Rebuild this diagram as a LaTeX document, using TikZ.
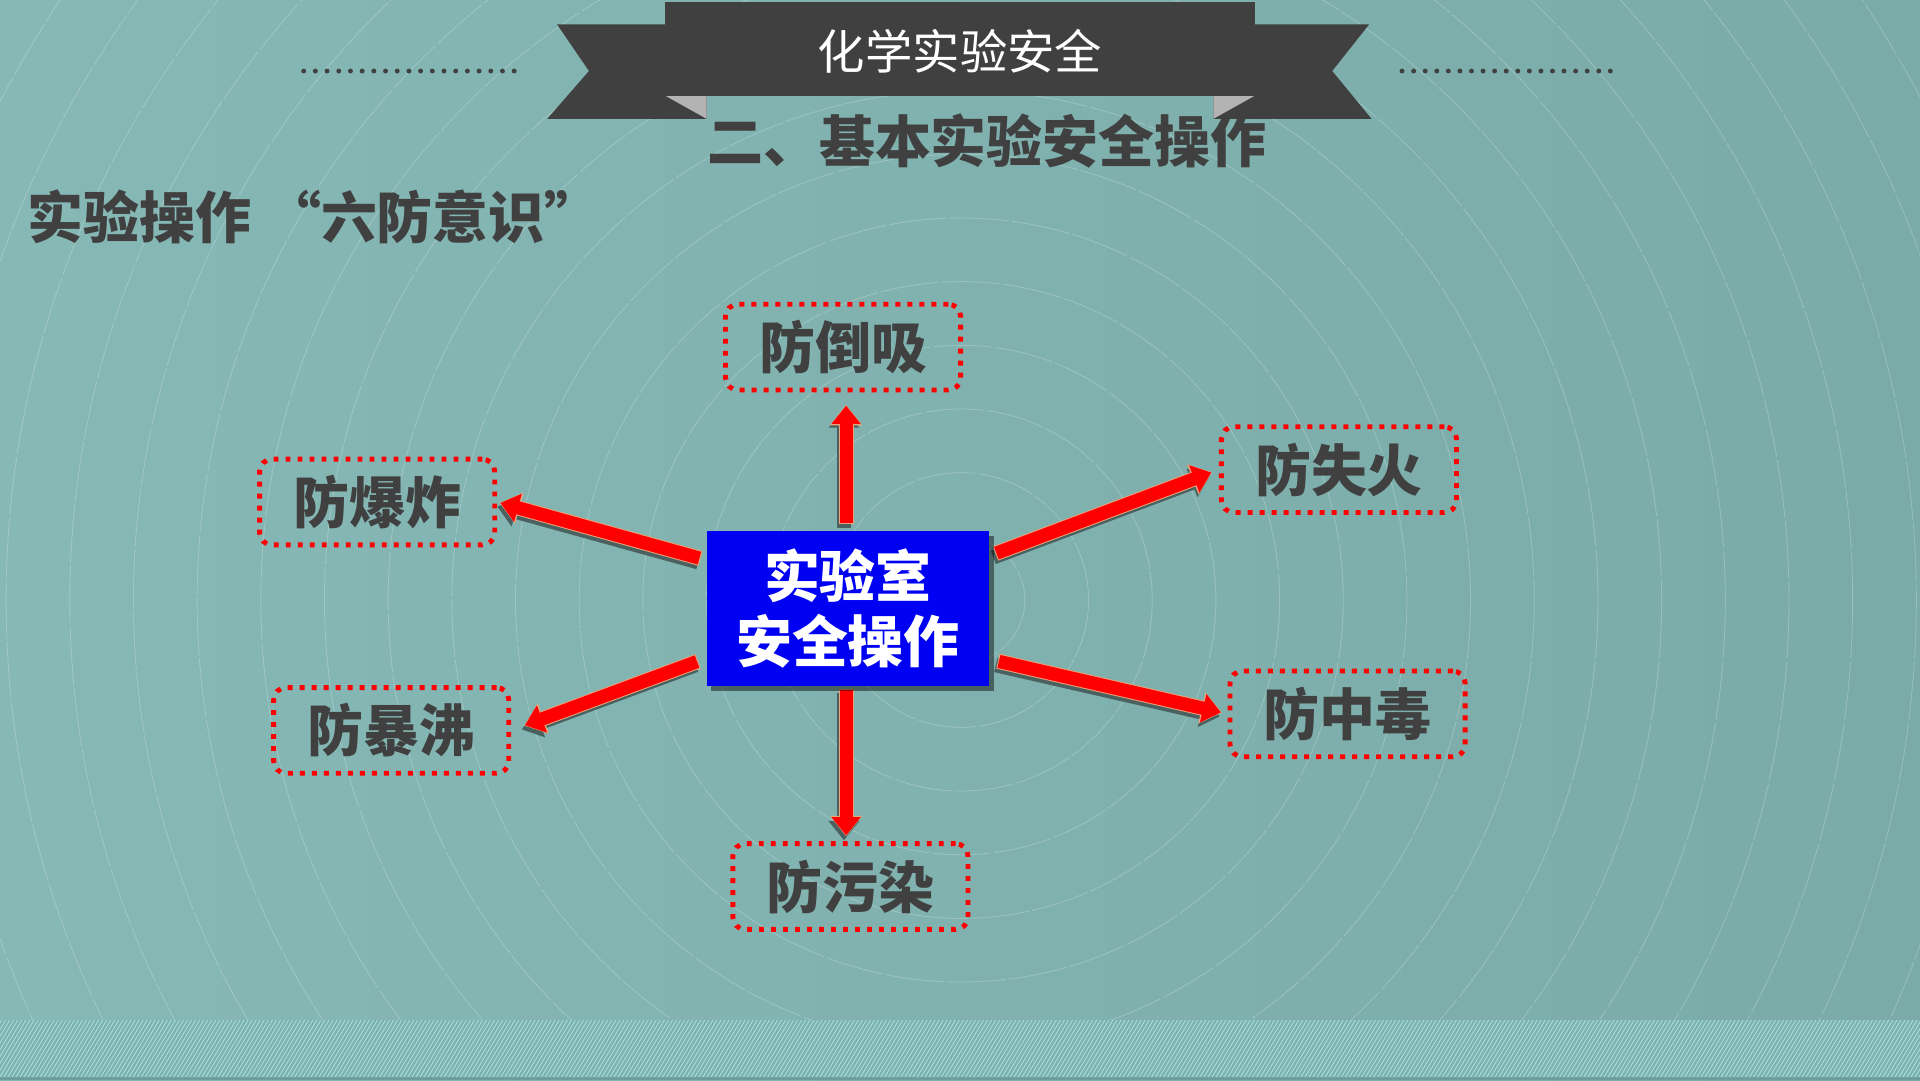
\documentclass[tikz,border=0pt]{standalone}
\usepackage{fontspec}
\newfontfamily\cjk{Noto Sans CJK SC}
\usetikzlibrary{arrows.meta,calc,shadows}
\definecolor{bgL}{HTML}{86B8B5}
\definecolor{bgR}{HTML}{7AABA8}
\definecolor{ink}{HTML}{404040}
\definecolor{fold}{HTML}{B3B3B3}
\definecolor{boxblue}{HTML}{0000F2}
\definecolor{arrowred}{HTML}{FF0000}
\definecolor{arrowedge}{HTML}{E9A27A}
\definecolor{arrowshade}{HTML}{4A6160}
\definecolor{hatch}{HTML}{A8DEDD}
\definecolor{band}{HTML}{7DB2B0}
\definecolor{strip}{HTML}{6E9F9C}
\begin{document}
\begin{tikzpicture}[x=0.25mm,y=-0.25mm,
  circ/.style={white, opacity=0.22, line width=0.18mm, dash pattern=on 12mm off 0.6mm},
  fangbox/.style={draw=arrowred, line width=1mm, dash pattern=on 1mm off 1.45mm,
    rounded corners=2.5mm, minimum width=48mm, minimum height=17.5mm, inner sep=0pt,
    font=\cjk\bfseries\fontsize{32.5}{36}\selectfont, text=ink},
  hub/.style={fill=boxblue, minimum width=57.75mm, minimum height=31.5mm, inner sep=0pt,
    align=center, text=white, font=\cjk\bfseries\fontsize{32.5}{37.7}\selectfont,
    drop shadow={shadow xshift=1mm, shadow yshift=-1mm, opacity=0.45, fill=black}},
  arrshadow/.style={draw=arrowshade, line width=2.9mm, -{Triangle[length=3.9mm,width=6mm]},
    transform canvas={shift={(-0.45mm,-0.8mm)}}},
  arredge/.style={draw=arrowedge, line width=3.1mm, -{Triangle[length=4.2mm,width=6.3mm]}},
  arrfill/.style={draw=arrowred, line width=2.7mm, -{Triangle[length=3.7mm,width=5.7mm]}},
  title/.style={inner sep=0pt, text=ink, font=\cjk\bfseries\fontsize{32.5}{36}\selectfont}
]
\useasboundingbox (0,0) rectangle (1568,882);
% background
\shade[left color=bgL, right color=bgR] (0,0) rectangle (1568,882);
\begin{scope}
\clip (0,0) rectangle (1568,833);
\foreach \r in {1,...,20} \draw[circ] (785,490) circle[radius=\r*52];
\end{scope}
% bottom hatched band
\begin{scope}
\clip (0,833) rectangle (1568,879.6);
\fill[band] (0,833) rectangle (1568,880);
\foreach \i in {0,...,490} \draw[hatch, line width=0.18mm] ({\i*3.3-40},880) -- ++(30,-50);
\end{scope}
\fill[strip] (0,879.6) rectangle (1568,882);
% banner
\fill[ink] (455,20) -- (577,20) -- (577,97) -- (447,97) -- (481,58) -- cycle;
\fill[ink] (1118,20) -- (991,20) -- (991,97) -- (1120,97) -- (1088,58) -- cycle;
\fill[fold] (543,78) -- (577,78) -- (577,97) -- cycle;
\fill[fold] (1025,78) -- (991,78) -- (991,97) -- cycle;
\fill[ink] (543,2) rectangle (1025,78);
\foreach \i in {0,...,18} {
  \fill[ink] (248+\i*9.55,58) circle[radius=2];
  \fill[ink] (1145+\i*9.45,58) circle[radius=2];
}
\node[inner sep=0pt, text=white, font=\cjk\fontsize{27.5}{30}\selectfont] (t1) at (784,42) {化学实验安全};
\node[title] (t2) at (806,115) {二、基本实验安全操作};
\node[title, anchor=west] (t3) at (22,177) {实验操作\hspace{0.25em}“六防意识”};
% boxes
\node[fangbox] (daoxi) at (688.5,283.5) {防倒吸};
\node[fangbox] (baozha) at (308,410) {防爆炸};
\node[fangbox] (shihuo) at (1093.5,383.5) {防失火};
\node[fangbox] (baofei) at (319.5,596.5) {防暴沸};
\node[fangbox] (zhongdu) at (1100.5,583) {防中毒};
\node[fangbox] (wuran) at (694.5,724) {防污染};
% arrow starts
\coordinate (a1) at (691,428);
\coordinate (a2) at (572,456);
\coordinate (a3) at (813,452);
\coordinate (a4) at (570,540);
\coordinate (a5) at (815,540);
\coordinate (a6) at (691,563);
\foreach \a/\b/\s in {a1/a1 |- daoxi.south/2.5, a2/baozha.east/0.5, a3/shihuo.west/1.5,
                      a4/baofei.east/2.8, a5/zhongdu.west/1.2, a6/a6 |- wuran.north/1} {
  \draw[arrshadow, shorten >=\s*1mm] (\a) -- (\b);
  \draw[arredge, shorten >=\s*1mm] (\a) -- (\b);
  \draw[arrfill, shorten >=\s*1mm+0.2mm, shorten <=0.2mm] (\a) -- (\b);
}
\node[hub] (hub) at (692.5,497) {实验室\\安全操作};
\end{tikzpicture}
\end{document}
